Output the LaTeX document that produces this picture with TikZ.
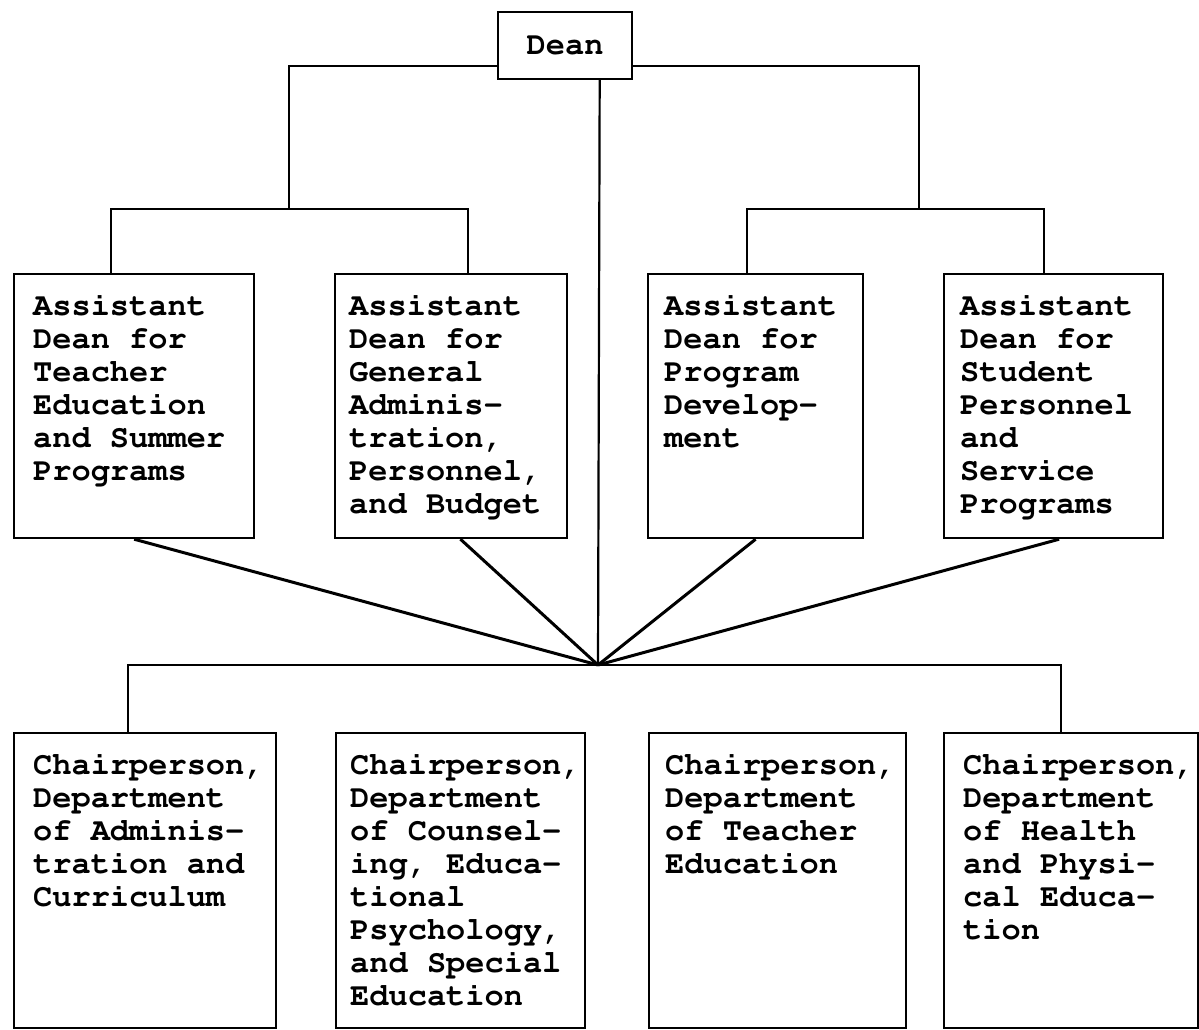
\documentclass[tikz,border=0pt]{standalone}
\usepackage[T1]{fontenc}
\usepackage{tikz}
\usetikzlibrary{calc,positioning}
\newcommand\orgfont{\fontencoding{T1}\fontfamily{pcr}\fontseries{b}\fontsize{32}{33}\selectfont}

\tikzset{
	unitbox/.style={draw, line width=2.2pt, inner sep=0pt, anchor=north west},
	unittext/.style={anchor=base west, inner sep=0pt, text width=260pt, align=flush left, font=\orgfont},
	link/.style={line width=2.2pt},
	fan/.style={line width=3pt}
}

\begin{document}
\begin{tikzpicture}[x=1pt, y=-1pt]
			%%%%% START %%%%%
			\useasboundingbox (0, 0) rectangle (1199, 1030);
			
			\node[unitbox, minimum width=134, minimum height=67, font=\orgfont] (dean) at (497, 11) {Dean};
			
			\node[unitbox, minimum width=240, minimum height=264] (asst1) at (13, 273) {};
			\node[unitbox, minimum width=232, minimum height=264] (asst2) at (334, 273) {};
			\node[unitbox, minimum width=215, minimum height=264] (asst3) at (647, 273) {};
			\node[unitbox, minimum width=219, minimum height=264] (asst4) at (943, 273) {};
			
			\node[unittext] (asst1txt) at ([xshift=20pt, yshift=-42pt]asst1.north west) {Assistant\\Dean for\\Teacher\\Education\\and Summer\\Programs};
			\node[unittext] (asst2txt) at ([xshift=15pt, yshift=-42pt]asst2.north west) {Assistant\\Dean for\\General\\Adminis-\\tration,\\Personnel,\\and Budget};
			\node[unittext] (asst3txt) at ([xshift=17pt, yshift=-42pt]asst3.north west) {Assistant\\Dean for\\Program\\Develop-\\ment};
			\node[unittext] (asst4txt) at ([xshift=17pt, yshift=-42pt]asst4.north west) {Assistant\\Dean for\\Student\\Personnel\\and\\Service\\Programs};
			
			\node[unitbox, minimum width=262, minimum height=295] (chair1) at (13, 732) {};
			\node[unitbox, minimum width=249, minimum height=295] (chair2) at (335, 732) {};
			\node[unitbox, minimum width=257, minimum height=295] (chair3) at (648, 732) {};
			\node[unitbox, minimum width=254, minimum height=295] (chair4) at (943, 732) {};
			
			\node[unittext] (chair1txt) at ([xshift=20pt, yshift=-42pt]chair1.north west) {Chairperson,\\Department\\of Adminis-\\tration and\\Curriculum};
			\node[unittext] (chair2txt) at ([xshift=15pt, yshift=-42pt]chair2.north west) {Chairperson,\\Department\\of Counsel-\\ing, Educa-\\tional\\Psychology,\\and Special\\Education};
			\node[unittext] (chair3txt) at ([xshift=17pt, yshift=-42pt]chair3.north west) {Chairperson,\\Department\\of Teacher\\Education};
			\node[unittext] (chair4txt) at ([xshift=20pt, yshift=-42pt]chair4.north west) {Chairperson,\\Department\\of Health\\and Physi-\\cal Educa-\\tion};
			
			% joints
			\coordinate (hub) at (598, 665);
			\coordinate (lbar) at (289, 209);
			\coordinate (rbar) at (919, 209);
			\coordinate (deanleft) at ($(dean.north west)!0.8!(dean.south west)$);
			\coordinate (deanright) at ($(dean.north east)!0.8!(dean.south east)$);
			\coordinate (deanfoot) at ($(dean.south west)!0.754!(dean.south east)$);
			\coordinate (asst1up) at ($(asst1.north west)!0.404!(asst1.north east)$);
			\coordinate (asst2up) at ($(asst2.north west)!0.573!(asst2.north east)$);
			\coordinate (asst3up) at ($(asst3.north west)!0.46!(asst3.north east)$);
			\coordinate (asst4up) at ($(asst4.north west)!0.457!(asst4.north east)$);
			\coordinate (chair1up) at ($(chair1.north west)!0.435!(chair1.north east)$);
			\coordinate (chair4up) at ($(chair4.north west)!0.46!(chair4.north east)$);
			
			\draw[link] (deanleft) -| (lbar);
			\draw[link] (deanright) -| (rbar);
			\draw[link] (asst1up) |- (lbar) -| (asst2up);
			\draw[link] (asst3up) |- (rbar) -| (asst4up);
			\draw[link] (deanfoot) -- (hub);
			
			\draw[fan] (asst1.south) -- (hub);
			\draw[fan] ($(asst2.south west)!0.54!(asst2.south east)$) -- (hub);
			\draw[fan] (asst3.south) -- (hub);
			\draw[fan] ($(asst4.south west)!0.525!(asst4.south east)$) -- (hub);
			
			\draw[link] (chair1up) |- (hub) -| (chair4up);
			
			%%%%% END %%%%%
\end{tikzpicture}
\end{document}
